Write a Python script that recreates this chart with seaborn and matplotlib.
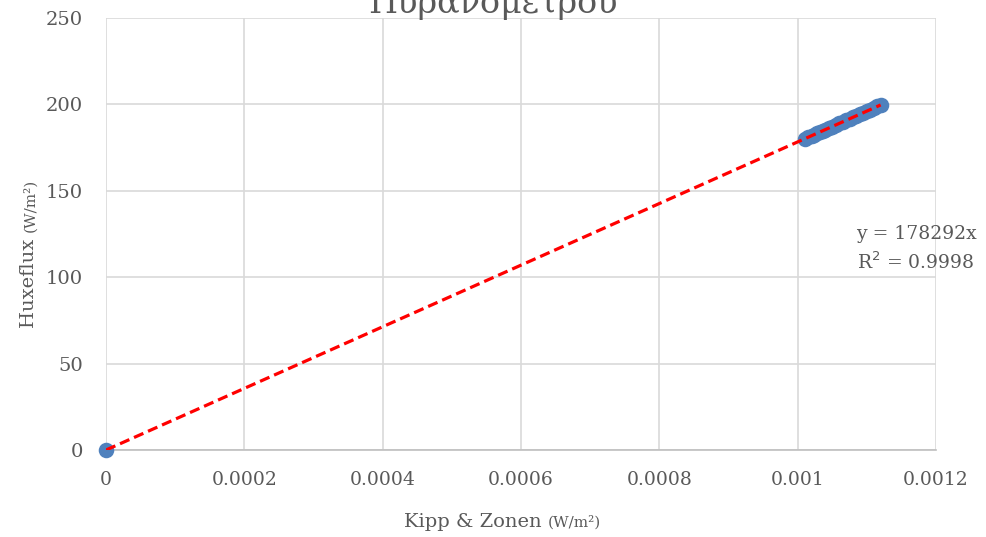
import matplotlib
matplotlib.use("Agg")
import matplotlib.pyplot as plt
import seaborn as sns
import numpy as np
import pandas as pd

# ---- data ----
kipp = [0.0, 0.001010, 0.001015, 0.001020, 0.001024, 0.001028, 0.001032, 0.001036,
        0.001040, 0.001045, 0.001050, 0.001055, 0.001060, 0.001065, 0.001070,
        0.001075, 0.001080, 0.001085, 0.001090, 0.001095, 0.001100, 0.001105,
        0.001110, 0.001115, 0.001120]
huxe = [0.0, 180.2, 181.0, 181.8, 182.5, 183.3, 184.0, 184.7,
        185.4, 186.3, 187.2, 188.1, 189.0, 189.9, 190.8,
        191.6, 192.5, 193.5, 194.3, 195.2, 196.1, 197.0,
        197.9, 198.8, 199.7]
slope = 178292
r2 = 0.9998
x_ticks = [0, 0.0002, 0.0004, 0.0006, 0.0008, 0.001, 0.0012]
x_tick_labels = ["0", "0.0002", "0.0004", "0.0006", "0.0008", "0.001", "0.0012"]
y_ticks = [0, 50, 100, 150, 200, 250]
title = "Πυρανόμετρου"
xlabel_main, xlabel_unit = "Kipp & Zonen", "(W/m²)"
ylabel_main, ylabel_unit = "Huxeflux", "(W/m²)"

df = pd.DataFrame({"kipp": kipp, "huxe": huxe})

sns.set_style("white")
plt.rcParams["font.family"] = ["DejaVu Serif"]
txt = "#595959"
grid = "#D9D9D9"

fig = plt.figure(figsize=(9.87, 5.37), dpi=100)
ax = fig.add_axes([106/987, 1-450/537, (936-106)/987, (450-18)/537])

sns.scatterplot(data=df, x="kipp", y="huxe", ax=ax, s=125, color="#4F81BD",
                edgecolor="#4F81BD", linewidth=0, zorder=3, legend=False, clip_on=False)
xl = np.array([0, max(kipp)])
ax.plot(xl, slope*xl, color="#FF0000", lw=2.3, ls=(0, (3.2, 1.6)), zorder=4)

ax.set_xlim(0, 0.0012)
ax.set_ylim(0, 250)
ax.set_xticks(x_ticks)
ax.set_xticklabels(x_tick_labels)
ax.set_yticks(y_ticks)
ax.grid(True, color=grid, lw=1.2)
ax.set_axisbelow(True)
for s in ["top", "right", "left"]:
    ax.spines[s].set_visible(False)
ax.spines["bottom"].set_color("#BFBFBF")
ax.spines["bottom"].set_linewidth(1.2)
ax.tick_params(axis="x", length=0, labelsize=13.5, labelcolor=txt, pad=15)
ax.tick_params(axis="y", length=0, labelsize=14, labelcolor=txt, pad=16.5)
ax.set_xlabel("")
ax.set_ylabel("")

# title (partly cut off at top, as in reference)
fig.text(493/987, 1-13/537, title, ha="center", va="baseline", fontsize=24, color=txt)

# x label
fig.text(548/987, 1-527/537, xlabel_main + " ", ha="right", va="baseline", fontsize=14, color=txt)
fig.text(548/987, 1-527/537, xlabel_unit, ha="left", va="baseline", fontsize=11, color=txt)
# y label
fig.text(34/987, 1-232/537, ylabel_main + " ", ha="right", va="baseline", rotation=90,
         fontsize=14, color=txt, rotation_mode="anchor")
fig.text(34/987, 1-232/537, ylabel_unit, ha="left", va="baseline", rotation=90,
         fontsize=11, color=txt, rotation_mode="anchor")

# trendline equation
fig.text(916/987, 1-234/537, f"y = {slope}x", ha="center", va="center", fontsize=13.5, color=txt)
fig.text(916/987, 1-262/537, f"R$^2$ = {r2}", ha="center", va="center", fontsize=13.5, color=txt)

fig.savefig("out.png", dpi=100)
